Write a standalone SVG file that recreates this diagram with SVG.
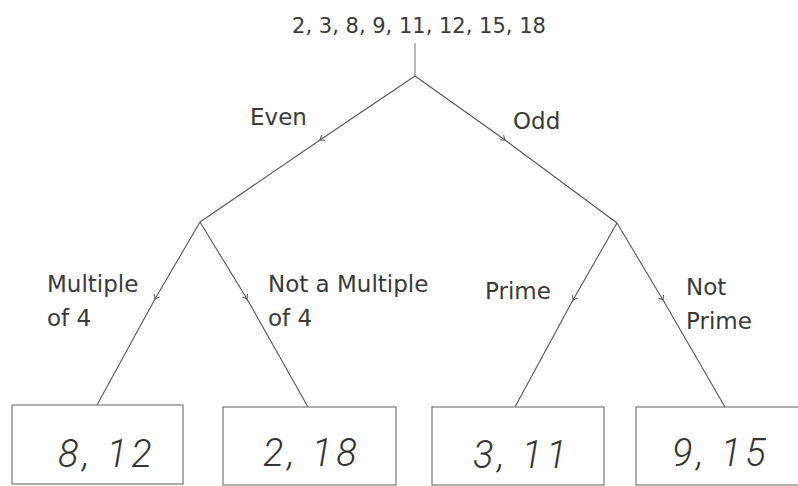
<svg xmlns="http://www.w3.org/2000/svg" width="798" height="486" viewBox="0 0 798 486">
<defs>
<style>
.lbl{font-family:"DejaVu Sans","Liberation Sans",sans-serif;font-size:23px;fill:#3a3a3a}
.top{font-family:"DejaVu Sans","Liberation Sans",sans-serif;font-size:21px;fill:#3a3a3a}
.hand{font-family:Roboto,"Liberation Sans",sans-serif;font-style:italic;font-weight:300;font-size:38px;fill:#333;letter-spacing:4px}
.box{fill:#fff;stroke:#777;stroke-width:1.2}
.edge{fill:none;stroke:#555;stroke-width:1.1;marker-mid:url(#tick)}
.stem{fill:none;stroke:#888;stroke-width:1.2}
</style>
<marker id="tick" markerUnits="userSpaceOnUse" markerWidth="10" markerHeight="10" refX="0" refY="0" viewBox="-6 -5 10 10" orient="auto">
<path d="M-4,-3 L0,0 L-4,3" fill="none" stroke="#555" stroke-width="1"/>
</marker>
</defs>
<rect width="798" height="486" fill="#fff"/>
<g id="root">
<text class="top" x="419" y="33" text-anchor="middle">2, 3, 8, 9, 11, 12, 15, 18</text>
</g>
<g id="connectors">
<path class="stem" d="M415,43 L415,76"/>
<polyline class="edge" points="415,76 320,140 200,222"/>
<polyline class="edge" points="415,76 505,140 617,223"/>
<polyline class="edge" points="200,222 155,299 97,405"/>
<polyline class="edge" points="200,222 247,299 308,407"/>
<polyline class="edge" points="617,223 573,300 515,407"/>
<polyline class="edge" points="617,223 663,300 725,407"/>
</g>
<g id="labels">
<text class="lbl" x="250" y="125">Even</text>
<text class="lbl" x="513" y="129">Odd</text>
<text class="lbl" x="47" y="292">Multiple</text>
<text class="lbl" x="47" y="326">of 4</text>
<text class="lbl" x="268" y="292">Not a Multiple</text>
<text class="lbl" x="268" y="326">of 4</text>
<text class="lbl" x="485" y="299">Prime</text>
<text class="lbl" x="686" y="295">Not</text>
<text class="lbl" x="686" y="329">Prime</text>
</g>
<g id="box-8-12">
<rect class="box" x="12" y="405" width="171" height="79"/>
<text class="hand" x="58" y="467">8, 12</text>
</g>
<g id="box-2-18">
<rect class="box" x="223" y="407" width="173" height="78"/>
<text class="hand" x="263" y="466">2, 18</text>
</g>
<g id="box-3-11">
<rect class="box" x="432" y="407" width="172" height="78"/>
<text class="hand" x="473" y="468">3, 11</text>
</g>
<g id="box-9-15">
<rect class="box" x="636" y="407" width="170" height="78"/>
<text class="hand" x="672" y="466">9, 15</text>
</g>
</svg>
